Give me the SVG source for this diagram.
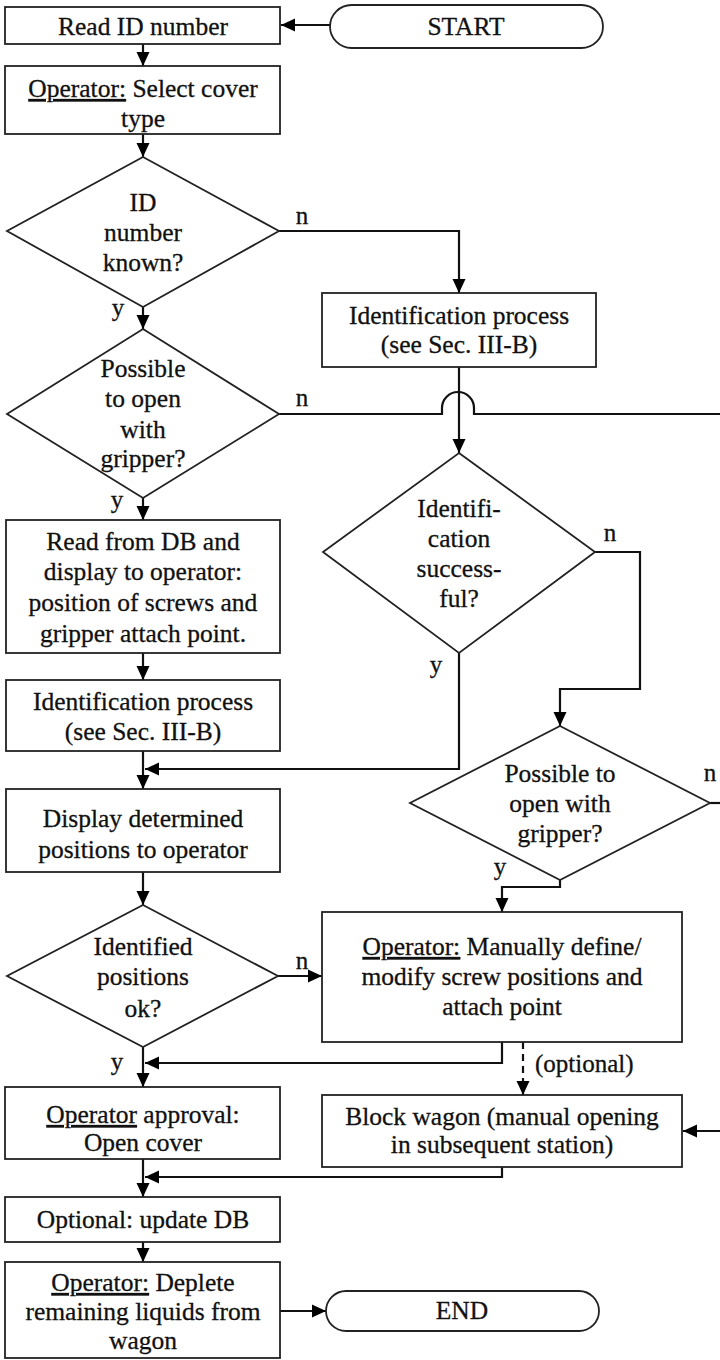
<svg xmlns="http://www.w3.org/2000/svg" width="720" height="1360" viewBox="0 0 720 1360">
  <defs>
    <marker id="arrow" viewBox="0 0 14 14" markerWidth="14" markerHeight="14" refX="14" refY="7" markerUnits="userSpaceOnUse" orient="auto">
      <path d="M0,0.5 L14,7 L0,13.5 z" fill="#000"/>
    </marker>
    <style>
      .box { fill: #fff; stroke: #222; stroke-width: 1.8; }
      .t { font-family: "Liberation Serif", "Times New Roman", serif; font-size: 25.5px; fill: #111; stroke: #111; stroke-width: 0.3; text-anchor: middle; }
      .lbl { font-family: "Liberation Serif", "Times New Roman", serif; font-size: 25px; fill: #111; stroke: #111; stroke-width: 0.3; text-anchor: middle; }
      .u { text-decoration: underline; }
      .c { fill: none; stroke: #111; stroke-width: 2.2; }
      .ca { fill: none; stroke: #111; stroke-width: 2.2; marker-end: url(#arrow); }
      .dash { fill: none; stroke: #111; stroke-width: 2.2; stroke-dasharray: 7 5; marker-end: url(#arrow); }
    </style>
  </defs>
  <rect width="720" height="1360" fill="#fff"/>

  <!-- connectors -->
  <g id="connectors">
    <path class="ca" d="M330,25 H281"/>
    <path class="ca" d="M143,44 V66"/>
    <path class="ca" d="M143,134 V157"/>
    <path class="ca" d="M143,307 V329"/>
    <path class="ca" d="M279,231 H459 V293"/>
    <path class="ca" d="M459,367 V453"/>
    <!-- "no" branch hops over the vertical line below the identification box -->
    <path class="c" d="M279,414 H442 V408 A16,16 0 0 1 474,408 V414 H720"/>
    <path class="ca" d="M143,498 V520"/>
    <path class="ca" d="M143,653 V680"/>
    <path class="ca" d="M143,751 V789"/>
    <path class="ca" d="M459,653 V769 H145"/>
    <path class="ca" d="M595,552 H640 V689 H560 V726"/>
    <path class="ca" d="M143,872 V905"/>
    <path class="ca" d="M278,976 H322"/>
    <path class="ca" d="M143,1047 V1087"/>
    <path class="ca" d="M502,1042 V1063 H145"/>
    <path class="ca" d="M560,880 V887 H502 V912"/>
    <path class="c" d="M710,803 H720"/>
    <path class="dash" d="M523,1042 V1095"/>
    <path class="ca" d="M720,1131 H683"/>
    <path class="ca" d="M143,1159 V1197"/>
    <path class="ca" d="M502,1167 V1177 H145"/>
    <path class="ca" d="M143,1242 V1262"/>
    <path class="ca" d="M280,1311 H326"/>
  </g>

  <!-- branch labels -->
  <g id="labels">
    <text class="lbl" x="302" y="224">n</text>
    <text class="lbl" x="118" y="316">y</text>
    <text class="lbl" x="302" y="406">n</text>
    <text class="lbl" x="117" y="508">y</text>
    <text class="lbl" x="610" y="541">n</text>
    <text class="lbl" x="436" y="673">y</text>
    <text class="lbl" x="302" y="969">n</text>
    <text class="lbl" x="117" y="1070">y</text>
    <text class="lbl" x="710" y="781">n</text>
    <text class="lbl" x="500" y="875">y</text>
    <text class="lbl" x="535" y="1072" style="text-anchor:start">(optional)</text>
  </g>

  <g id="start">
    <rect class="box" x="330" y="5" width="273" height="43" rx="21.5"/>
    <text class="t" x="466" y="35">START</text>
  </g>

  <g id="read-id">
    <rect class="box" x="5" y="7" width="275" height="37"/>
    <text class="t" x="143" y="35">Read ID number</text>
  </g>

  <g id="select-cover">
    <rect class="box" x="5" y="66" width="275" height="68"/>
    <text class="t" x="143" y="97"><tspan class="u">Operator:</tspan> Select cover</text>
    <text class="t" x="143" y="127">type</text>
  </g>

  <g id="id-known">
    <polygon class="box" points="143,157 279,231 143,307 7,231"/>
    <text class="t" x="143" y="211">ID</text>
    <text class="t" x="143" y="241">number</text>
    <text class="t" x="143" y="271">known?</text>
  </g>

  <g id="gripper-1">
    <polygon class="box" points="143,329 279,414 143,498 7,414"/>
    <text class="t" x="143" y="377">Possible</text>
    <text class="t" x="143" y="407">to open</text>
    <text class="t" x="143" y="438">with</text>
    <text class="t" x="143" y="467">gripper?</text>
  </g>

  <g id="identification-a">
    <rect class="box" x="322" y="293" width="274" height="74"/>
    <text class="t" x="459" y="324">Identification process</text>
    <text class="t" x="459" y="353">(see Sec. III-B)</text>
  </g>

  <g id="id-success">
    <polygon class="box" points="459,453 595,552 459,653 323,552"/>
    <text class="t" x="459" y="517">Identifi-</text>
    <text class="t" x="459" y="547">cation</text>
    <text class="t" x="459" y="577">success-</text>
    <text class="t" x="459" y="607">ful?</text>
  </g>

  <g id="read-db">
    <rect class="box" x="6" y="520" width="274" height="133"/>
    <text class="t" x="143" y="550">Read from DB and</text>
    <text class="t" x="143" y="580">display to operator:</text>
    <text class="t" x="143" y="611">position of screws and</text>
    <text class="t" x="143" y="642">gripper attach point.</text>
  </g>

  <g id="identification-b">
    <rect class="box" x="6" y="680" width="274" height="71"/>
    <text class="t" x="143" y="710">Identification process</text>
    <text class="t" x="143" y="740">(see Sec. III-B)</text>
  </g>

  <g id="gripper-2">
    <polygon class="box" points="560,726 710,803 560,880 410,803"/>
    <text class="t" x="560" y="782">Possible to</text>
    <text class="t" x="560" y="812">open with</text>
    <text class="t" x="560" y="842">gripper?</text>
  </g>

  <g id="display">
    <rect class="box" x="6" y="789" width="274" height="83"/>
    <text class="t" x="143" y="827">Display determined</text>
    <text class="t" x="143" y="858">positions to operator</text>
  </g>

  <g id="positions-ok">
    <polygon class="box" points="143,905 278,976 143,1047 7,976"/>
    <text class="t" x="143" y="955">Identified</text>
    <text class="t" x="143" y="985">positions</text>
    <text class="t" x="143" y="1017">ok?</text>
  </g>

  <g id="manual-define">
    <rect class="box" x="322" y="912" width="360" height="130"/>
    <text class="t" x="502" y="955"><tspan class="u">Operator:</tspan> Manually define/</text>
    <text class="t" x="502" y="985">modify screw positions and</text>
    <text class="t" x="502" y="1015">attach point</text>
  </g>

  <g id="approval">
    <rect class="box" x="5" y="1087" width="275" height="72"/>
    <text class="t" x="143" y="1123"><tspan class="u">Operator</tspan> approval:</text>
    <text class="t" x="143" y="1151">Open cover</text>
  </g>

  <g id="block-wagon">
    <rect class="box" x="322" y="1095" width="360" height="72"/>
    <text class="t" x="502" y="1125">Block wagon (manual opening</text>
    <text class="t" x="502" y="1153">in subsequent station)</text>
  </g>

  <g id="update-db">
    <rect class="box" x="5" y="1197" width="275" height="45"/>
    <text class="t" x="143" y="1228">Optional: update DB</text>
  </g>

  <g id="deplete">
    <rect class="box" x="5" y="1262" width="275" height="96"/>
    <text class="t" x="143" y="1291"><tspan class="u">Operator:</tspan> Deplete</text>
    <text class="t" x="143" y="1320">remaining liquids from</text>
    <text class="t" x="143" y="1349">wagon</text>
  </g>

  <g id="end">
    <rect class="box" x="326" y="1291" width="273" height="40" rx="20"/>
    <text class="t" x="462" y="1319">END</text>
  </g>
</svg>
